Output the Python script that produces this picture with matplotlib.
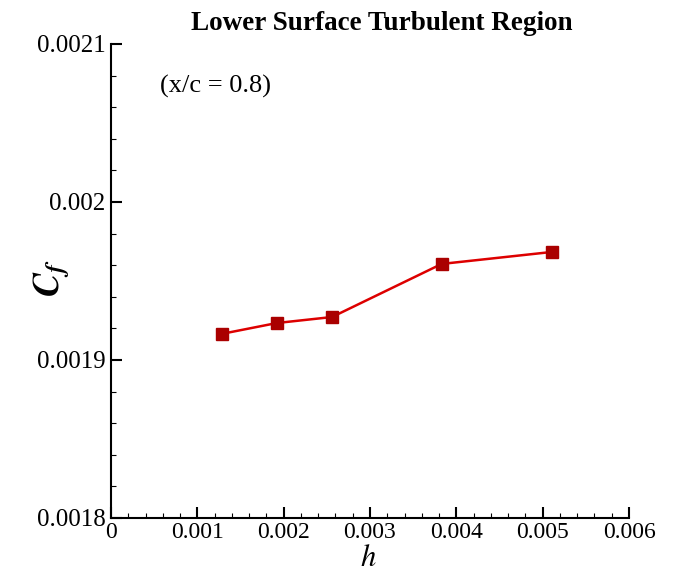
import matplotlib
matplotlib.use("Agg")
import matplotlib.pyplot as plt
from matplotlib.ticker import MultipleLocator, FuncFormatter

# data
h = [0.00128, 0.00192, 0.00256, 0.00383, 0.00511]
cf = [0.0019165, 0.0019234, 0.0019272, 0.0019608, 0.0019684]

x_ticks = [0, 0.001, 0.002, 0.003, 0.004, 0.005, 0.006]
y_ticks = [0.0018, 0.0019, 0.002, 0.0021]

plt.rcParams['font.family'] = ['Liberation Serif', 'DejaVu Serif']
plt.rcParams['mathtext.fontset'] = 'stix'

fig = plt.figure(figsize=(6.74, 5.74), dpi=100)
ax = fig.add_axes([111 / 674, 1 - 518 / 574, 518 / 674, 474 / 574])

ax.plot(h, cf, color='#dd0000', lw=1.8, marker='s', ms=8.5,
        markerfacecolor='#aa0000', markeredgecolor='#aa0000', clip_on=False)

ax.set_xlim(0, 0.006)
ax.set_ylim(0.0018, 0.0021)
ax.set_xticks(x_ticks)
ax.set_yticks(y_ticks)
ax.xaxis.set_minor_locator(MultipleLocator(0.0002))
ax.yaxis.set_minor_locator(MultipleLocator(0.00002))
fmt = FuncFormatter(lambda v, p: ('%.4f' % v).rstrip('0').rstrip('.') if v != 0 else '0')
ax.xaxis.set_major_formatter(fmt)
ax.yaxis.set_major_formatter(fmt)

for s in ['top', 'right']:
    ax.spines[s].set_visible(False)
for s in ['left', 'bottom']:
    ax.spines[s].set_linewidth(1.5)

ax.tick_params(which='major', direction='in', length=8, width=1.5, labelsize=18, pad=4)
ax.tick_params(which='minor', direction='in', length=3.6, width=0.8)
ax.tick_params(axis='x', labelsize=17, pad=3)

fig.text(368 / 674, 0.5 / 574, r'$h$', ha='center', va='bottom', fontsize=22)
fig.text(51 / 674, 1 - 278 / 574, r'$\mathbfit{C_f}$', rotation=90,
         ha='center', va='center', fontsize=26)

fig.text(382 / 674, 1 - 23 / 574, 'Lower Surface Turbulent Region',
         ha='center', va='center', fontsize=19.5, fontweight='bold')
fig.text(160 / 674, 1 - 86 / 574, '(x/c = 0.8)',
         ha='left', va='center', fontsize=19)

fig.savefig('out.png', dpi=100)
